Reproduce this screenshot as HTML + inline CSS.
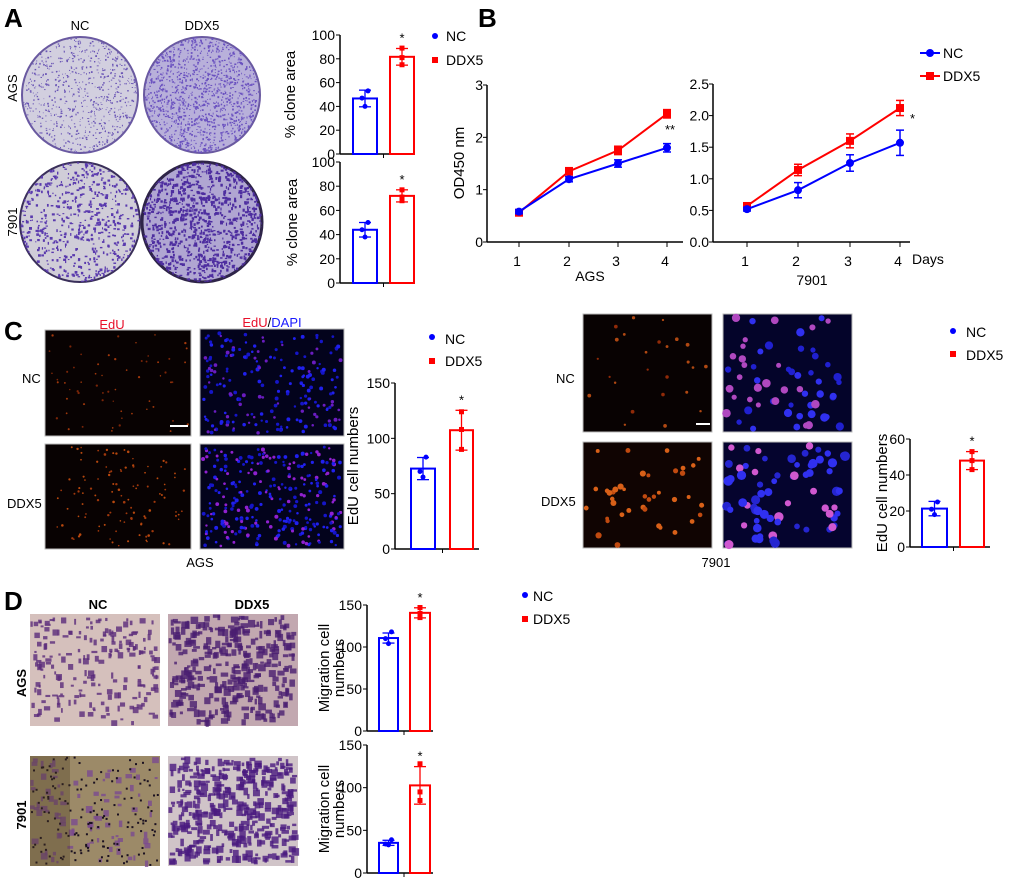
<!DOCTYPE html>
<html><head><meta charset="utf-8"><style>
html,body{margin:0;padding:0;background:#fff;}
svg{display:block;font-family:"Liberation Sans",Arial,sans-serif;}
</style></head><body>
<svg id="s" width="1020" height="882" viewBox="0 0 1020 882" xmlns="http://www.w3.org/2000/svg">
<defs>
<clipPath id="c1"><circle cx="80" cy="95" r="58"/></clipPath>
<clipPath id="c2"><circle cx="202" cy="95" r="58"/></clipPath>
<clipPath id="c3"><circle cx="80" cy="222" r="60"/></clipPath>
<clipPath id="c4"><circle cx="202" cy="222" r="60"/></clipPath>
</defs>
<g font-weight="bold" font-size="26">
<text x="4" y="27">A</text><text x="478" y="27">B</text><text x="4" y="340">C</text><text x="4" y="610">D</text>
</g>
<text x="80" y="30" font-size="13" text-anchor="middle">NC</text>
<text x="202" y="30" font-size="13" text-anchor="middle">DDX5</text>
<text transform="translate(17,88) rotate(-90)" font-size="13" text-anchor="middle">AGS</text>
<text transform="translate(17,222) rotate(-90)" font-size="13" text-anchor="middle">7901</text>
<circle cx="80" cy="95" r="58" fill="#d2cfdf" stroke="#6a5aa0" stroke-width="2"/>
<circle cx="202" cy="95" r="58" fill="#b8b0da" stroke="#6a5aa0" stroke-width="2"/>
<circle cx="80" cy="222" r="60" fill="#d0cdd8" stroke="#3a2f5a" stroke-width="2"/>
<circle cx="202" cy="222" r="60" fill="#b0a6d2" stroke="#2e2448" stroke-width="3"/>
<circle cx="435" cy="36" r="3" fill="#0000ff"/><text x="446" y="41" font-size="14">NC</text>
<rect x="432" y="57" width="6" height="6" fill="#ff0000"/><text x="446" y="65" font-size="14">DDX5</text>
<line x1="920" y1="53" x2="940" y2="53" stroke="#0000ff" stroke-width="2"/><circle cx="930" cy="53" r="4" fill="#0000ff"/><text x="943" y="58" font-size="14">NC</text>
<line x1="920" y1="76" x2="940" y2="76" stroke="#ff0000" stroke-width="2"/><rect x="926" y="72" width="8" height="8" fill="#ff0000"/><text x="943" y="81" font-size="14">DDX5</text>
<text x="112" y="329" font-size="13" fill="#e8102a" text-anchor="middle">EdU</text>
<text x="272" y="327" font-size="13" text-anchor="middle"><tspan fill="#e8102a">EdU</tspan>/<tspan fill="#1a1aff">DAPI</tspan></text>
<text x="22" y="383" font-size="13">NC</text>
<text x="7" y="508" font-size="13">DDX5</text>
<text x="200" y="567" font-size="13" text-anchor="middle">AGS</text>
<text x="643" y="327" font-size="13" fill="#e8102a" text-anchor="middle">EdU</text>
<text x="788" y="327" font-size="13" text-anchor="middle"><tspan fill="#e8102a">EdU</tspan>/<tspan fill="#1a1aff">DAPI</tspan></text>
<text x="556" y="383" font-size="13">NC</text>
<text x="541" y="506" font-size="13">DDX5</text>
<text x="716" y="567" font-size="13" text-anchor="middle">7901</text>
<circle cx="432" cy="337" r="3" fill="#0000ff"/><text x="445" y="344" font-size="14">NC</text>
<rect x="429" y="358" width="6" height="6" fill="#ff0000"/><text x="445" y="366" font-size="14">DDX5</text>
<circle cx="953" cy="331" r="3" fill="#0000ff"/><text x="966" y="337" font-size="14">NC</text>
<rect x="950" y="351" width="6" height="6" fill="#ff0000"/><text x="966" y="360" font-size="14">DDX5</text>
<text x="98" y="609" font-size="13" font-weight="bold" text-anchor="middle">NC</text>
<text x="252" y="609" font-size="13" font-weight="bold" text-anchor="middle">DDX5</text>
<text transform="translate(26,683) rotate(-90)" font-size="13" font-weight="bold" text-anchor="middle">AGS</text>
<text transform="translate(26,815) rotate(-90)" font-size="13" font-weight="bold" text-anchor="middle">7901</text>
<circle cx="525" cy="595" r="3" fill="#0000ff"/><text x="533" y="601" font-size="14">NC</text>
<rect x="522" y="616" width="6" height="6" fill="#ff0000"/><text x="533" y="624" font-size="14">DDX5</text>
</svg>
<script>
var NS="http://www.w3.org/2000/svg",S=document.getElementById('s');
var seed=7;function r(){seed=(seed*16807)%2147483647;return seed/2147483647;}
function el(t,a,p){var e=document.createElementNS(NS,t);for(var k in a)e.setAttribute(k,a[k]);(p||S).appendChild(e);return e;}
function txt(x,y,s,a,p){var e=el('text',Object.assign({x:x,y:y,'font-size':13},a||{}),p);e.textContent=s;return e;}
function plate(cx,cy,R,clip,n,sz,col){var g=el('g',{'clip-path':'url(#'+clip+')'});for(var i=0;i<n;i++){el('rect',{x:cx-R+r()*2*R,y:cy-R+r()*2*R,width:sz*(0.5+r()),height:sz*(0.5+r()),fill:col},g);}}
plate(80,95,58,'c1',900,1.2,'#6a55b5');plate(202,95,58,'c2',1500,1.4,'#6b52c0');
plate(80,222,60,'c3',700,2,'#5a3aae');plate(202,222,60,'c4',1100,2.2,'#4e2ea0');
function img(x,y,w,h,bg,n,cols,sz){el('rect',{x:x,y:y,width:w,height:h,fill:bg,stroke:'#bbb','stroke-width':1});for(var i=0;i<n;i++){el('circle',{cx:x+3+r()*(w-6),cy:y+3+r()*(h-6),r:sz*(0.7+0.5*r()),fill:cols[Math.floor(r()*cols.length)]});}}
img(45,330,146,106,'#080202',60,['#7a2508','#a0380c'],1.0);
img(45,444,146,105,'#080202',110,['#a0380c','#b8480e'],1.1);
img(200,329,144,107,'#03031c',200,['#1515c8','#2020ee','#6a1cc0'],1.7);
img(200,444,144,105,'#03031c',280,['#1515c8','#2020ee','#9020d0'],1.7);
el('rect',{x:170,y:425,width:18,height:2,fill:'#fff'});
img(583,314,129,118,'#080202',25,['#902a08','#b04812'],1.6);
img(583,442,129,106,'#100402',40,['#c04a10','#d86018'],2.6);
img(723,314,129,118,'#04042a',60,['#2020d0','#3030f0','#b048c0'],3.6);
img(723,442,129,106,'#05042e',70,['#2525d0','#3030f0','#d058d0'],4);
el('rect',{x:696,y:423,width:14,height:2,fill:'#fff'});
function mig(x,y,w,h,bg,n,col,sz){el('rect',{x:x,y:y,width:w,height:h,fill:bg});var g=el('g',{});for(var i=0;i<n;i++){el('rect',{x:x+r()*(w-sz),y:y+r()*(h-sz),width:sz*(0.4+r()),height:sz*(0.4+r()),fill:col,opacity:0.8},g);}}
mig(30,614,130,112,'#d5c0bc',200,'#5a2a7a',4.5);
mig(168,614,130,112,'#c2a8b0',320,'#4a1e70',5.5);
mig(30,756,130,110,'#9c8a68',90,'#7a4a90',5);
for(var i=0;i<150;i++)el('rect',{x:30+r()*128,y:756+r()*108,width:2,height:2,fill:'#1a1020'});
el('rect',{x:30,y:756,width:40,height:110,fill:'#4a3a20',opacity:0.35});
mig(168,756,130,110,'#d0c4c8',380,'#4a1a80',5.5);
function bars(ax,y0,y1,vmax,ticks,xlab,b1,b2,pts1,pts2,e1,e2,xend,star,ylab,ylx){
 var sc=(y0-y1)/vmax;function Y(v){return y0-v*sc;}
 el('line',{x1:ax,y1:y1,x2:ax,y2:y0,stroke:'#000','stroke-width':1.5});
 el('line',{x1:ax,y1:y0,x2:xend,y2:y0,stroke:'#000','stroke-width':1.5});
 var mid=(b1[1]+b2[0])/2;el('line',{x1:mid,y1:y0,x2:mid,y2:y0+4,stroke:'#000'});
 ticks.forEach(function(t){el('line',{x1:ax-4,y1:Y(t),x2:ax,y2:Y(t),stroke:'#000'});txt(ax-5,Y(t)+5,String(t),{'text-anchor':'end','font-size':14});});
 [[b1,pts1,e1,'#0000ff'],[b2,pts2,e2,'#ff0000']].forEach(function(q,i){var b=q[0],m=q[1].reduce(function(a,c){return a+c;},0)/q[1].length,c=q[3],cx=(b[0]+b[1])/2;
  el('rect',{x:b[0],y:Y(m),width:b[1]-b[0],height:y0-Y(m),fill:'none',stroke:c,'stroke-width':2});
  el('line',{x1:cx,y1:Y(m+q[2]),x2:cx,y2:Y(m-q[2]),stroke:c,'stroke-width':1.3});
  el('line',{x1:cx-6,y1:Y(m+q[2]),x2:cx+6,y2:Y(m+q[2]),stroke:c,'stroke-width':1.3});
  el('line',{x1:cx-6,y1:Y(m-q[2]),x2:cx+6,y2:Y(m-q[2]),stroke:c,'stroke-width':1.3});
  q[1].forEach(function(v,j){var dx=(j==1?-3:j==2?3:0);if(i==0)el('circle',{cx:cx+dx,cy:Y(v),r:2.5,fill:c});else el('rect',{x:cx-2.5,y:Y(v)-2.5,width:5,height:5,fill:c});});
  if(i==1)txt(cx,Y(m+q[2])-6,star,{'text-anchor':'middle','font-size':13});
 });
 var t=el('text',{transform:'translate('+ylx+','+((y0+y1)/2)+') rotate(-90)','text-anchor':'middle','font-size':15});
 if(Array.isArray(ylab)){ylab.forEach(function(s,k){var ts=el('tspan',{x:0,dy:k?'1em':'-0.15em'},t);ts.textContent=s;});}else t.textContent=ylab;
}
bars(340,154,35,100,[0,20,40,60,80,100],0,[353,377],[390,414],[40,47,53],[75,81,89],7,7,415,'*','% clone area',295);
bars(340,283,162,100,[0,20,40,60,80,100],0,[353,377],[390,414],[38,44,50],[68,71,77],6,5,415,'*','% clone area',297);
bars(395,549,383,150,[0,50,100,150],0,[411,435],[450,473],[65,70,83],[90,108,124],10,18,479,'*','EdU cell numbers',358);
bars(910,547,439,60,[0,20,40,60],0,[922,947],[960,984],[18,21,25],[43,48,53],4,5,990,'*','EdU cell numbers',887);
bars(367,731,605,150,[0,50,100,150],0,[379,398],[410,430],[104,110,118],[135,140,147],6,6,433,'*',['Migration cell','numbers'],331);
bars(367,873,745,150,[0,50,100,150],0,[379,398],[410,430],[33,34,39],[85,95,128],3,22,433,'*',['Migration cell','numbers'],331);
function lc(ax,y0,y1,vmax,ticks,fmt,xs,xend,nc,dd,enc,edd,star,sx,sy,lab){
 var sc=(y0-y1)/vmax;function Y(v){return y0-v*sc;}
 el('line',{x1:ax,y1:y1,x2:ax,y2:y0,stroke:'#000','stroke-width':1.5});
 el('line',{x1:ax,y1:y0,x2:xend,y2:y0,stroke:'#000','stroke-width':1.5});
 ticks.forEach(function(t){el('line',{x1:ax-4,y1:Y(t),x2:ax,y2:Y(t),stroke:'#000'});txt(ax-4,Y(t)+5,fmt(t),{'text-anchor':'end','font-size':14});});
 xs.forEach(function(x,i){el('line',{x1:x,y1:y0,x2:x,y2:y0+5,stroke:'#000'});txt(x-2,y0+24,String(i+1),{'text-anchor':'middle','font-size':14});});
 [[dd,edd,'#ff0000',1],[nc,enc,'#0000ff',0]].forEach(function(q){var c=q[2];
  el('polyline',{points:xs.map(function(x,i){return x+','+Y(q[0][i]);}).join(' '),fill:'none',stroke:c,'stroke-width':2});
  xs.forEach(function(x,i){var v=q[0][i],e=q[1][i];
   el('line',{x1:x,y1:Y(v+e),x2:x,y2:Y(v-e),stroke:c,'stroke-width':1.5});
   el('line',{x1:x-4,y1:Y(v+e),x2:x+4,y2:Y(v+e),stroke:c,'stroke-width':1.5});
   el('line',{x1:x-4,y1:Y(v-e),x2:x+4,y2:Y(v-e),stroke:c,'stroke-width':1.5});
   if(q[3])el('rect',{x:x-4,y:Y(v)-4,width:8,height:8,fill:c});else el('circle',{cx:x,cy:Y(v),r:4,fill:c});});
 });
 txt(sx,sy,star,{'font-size':13});
 txt(lab[1],lab[2],lab[0],{'text-anchor':'middle','font-size':14});
}
lc(487,242,85,3,[0,1,2,3],function(t){return String(t);},[519,569,618,667],683,[0.58,1.2,1.5,1.8],[0.56,1.35,1.75,2.45],[0.04,0.05,0.07,0.08],[0.04,0.07,0.08,0.08],'**',665,134,['AGS',590,281]);
lc(713,242,84,2.5,[0,0.5,1,1.5,2,2.5],function(t){return t.toFixed(1);},[747,798,850,900],910,[0.52,0.82,1.25,1.57],[0.57,1.14,1.6,2.12],[0.03,0.12,0.13,0.2],[0.03,0.09,0.11,0.12],'*',910,123,['7901',812,285]);
txt(912,264,'Days',{'font-size':14});
el('text',{transform:'translate(464,163) rotate(-90)','text-anchor':'middle','font-size':15}).textContent='OD450 nm';
</script>
</body></html>
